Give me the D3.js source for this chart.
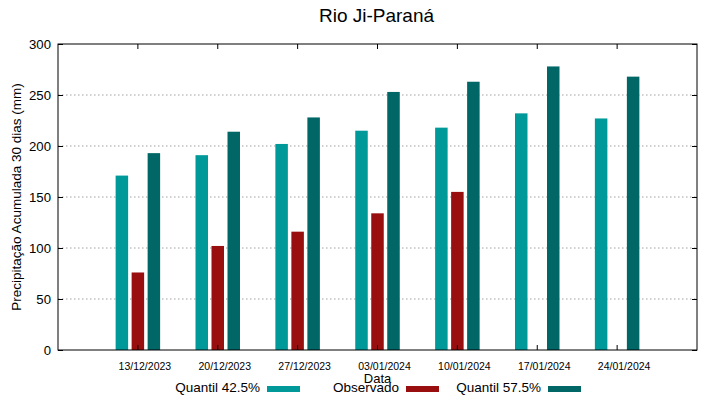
<!DOCTYPE html>
<html>
<head>
<meta charset="utf-8">
<script src="https://cdn.jsdelivr.net/npm/d3@7"></script>
<style>
  body { margin: 0; background: #fff; }
  svg { font-family: "Liberation Sans", Arial, sans-serif; }
</style>
</head>
<body>
<svg id="chart" width="719" height="399"></svg>
<script>
var dates = ["13/12/2023", "20/12/2023", "27/12/2023", "03/01/2024", "10/01/2024", "17/01/2024", "24/01/2024"];
var quantil425 = [171, 191, 202, 215, 218, 232, 227];
var observado = [76, 102, 116, 134, 155, null, null];
var quantil575 = [193, 214, 228, 253, 263, 278, 268];
var seriesNames = ["Quantil 42.5%", "Observado", "Quantil 57.5%"];
var yTicks = [0, 50, 100, 150, 200, 250, 300];

var colors = ["#009999", "#990f0f", "#006666"];
var seriesValues = [quantil425, observado, quantil575];

var svg = d3.select("#chart");
var W = 719, H = 399;
var m = { top: 44, right: 22, bottom: 49, left: 58 };
var pw = W - m.left - m.right, ph = H - m.top - m.bottom;

var g = svg.append("g").attr("transform", "translate(" + m.left + "," + m.top + ")");

// one empty slot of width on each side, like gnuplot's range
var x0 = d3.scaleBand().domain(dates).range([pw / 16, pw - pw / 16]);
var x1 = d3.scaleBand().domain(seriesNames).range([x0.bandwidth() / 2 - 24, x0.bandwidth() / 2 + 24]);
var y = d3.scaleLinear().domain([0, 300]).range([ph, 0]);

// grid
g.selectAll(".grid").data(yTicks.filter(function (d) { return d > 0 && d < 300; }))
  .enter().append("line")
  .attr("x1", 0).attr("x2", pw)
  .attr("y1", function (d) { return y(d); }).attr("y2", function (d) { return y(d); })
  .attr("stroke", "#a0a0a0").attr("stroke-width", 1)
  .attr("stroke-dasharray", "1.5,2.5");

// bars
var bw = 12.5;
seriesNames.forEach(function (name, si) {
  g.selectAll(".bar" + si)
    .data(dates.map(function (d, i) { return { d: d, v: seriesValues[si][i] }; })
      .filter(function (o) { return o.v != null; }))
    .enter().append("rect")
    .attr("x", function (o) { return x0(o.d) + x1(name) + x1.bandwidth() / 2 - bw / 2; })
    .attr("width", bw)
    .attr("y", function (o) { return y(o.v); })
    .attr("height", function (o) { return ph - y(o.v); })
    .attr("fill", colors[si]);
});

// axes (ticks pointing inward, gnuplot-style box)
var tick = 5;
g.append("g").call(d3.axisLeft(y).tickValues(yTicks).tickSizeInner(-tick).tickSizeOuter(0).tickPadding(7))
  .call(function (a) {
    a.select(".domain").remove();
    a.selectAll("text").attr("font-size", 13.2).attr("fill", "#000");
  });
g.append("g").attr("transform", "translate(" + pw + ",0)")
  .call(d3.axisRight(y).tickValues(yTicks).tickSizeInner(-tick).tickSizeOuter(0).tickFormat(""))
  .call(function (a) { a.select(".domain").remove(); });
g.append("g").attr("transform", "translate(0," + ph + ")")
  .call(d3.axisBottom(x0).tickSizeInner(-tick).tickSizeOuter(0).tickPadding(13))
  .call(function (a) {
    a.select(".domain").remove();
    a.selectAll("text").attr("font-size", 10.5).attr("fill", "#000").attr("dx", 7);
  });
g.append("g")
  .call(d3.axisTop(x0).tickSizeInner(-tick).tickSizeOuter(0).tickFormat(""))
  .call(function (a) { a.select(".domain").remove(); });

g.append("rect").attr("width", pw).attr("height", ph)
  .attr("fill", "none").attr("stroke", "#000").attr("stroke-width", 1);

// titles
svg.append("text").attr("x", m.left + pw / 2 - 1).attr("y", 22)
  .attr("text-anchor", "middle").attr("font-size", 19).text("Rio Ji-Paraná");
svg.append("text").attr("x", m.left + pw / 2).attr("y", 383)
  .attr("text-anchor", "middle").attr("font-size", 13).text("Data");
svg.append("text")
  .attr("transform", "translate(21," + (m.top + ph / 2) + ") rotate(-90)")
  .attr("text-anchor", "middle").attr("font-size", 13.5)
  .text("Precipitação Acumulada 30 dias (mm)");

// legend
var legendEnd = [260, 399, 541];
seriesNames.forEach(function (name, si) {
  svg.append("text").attr("x", legendEnd[si]).attr("y", 392)
    .attr("text-anchor", "end").attr("font-size", 13.5).text(name);
  svg.append("rect").attr("x", legendEnd[si] + 7).attr("y", 386)
    .attr("width", 33).attr("height", 6).attr("fill", colors[si]);
});
</script>
</body>
</html>
